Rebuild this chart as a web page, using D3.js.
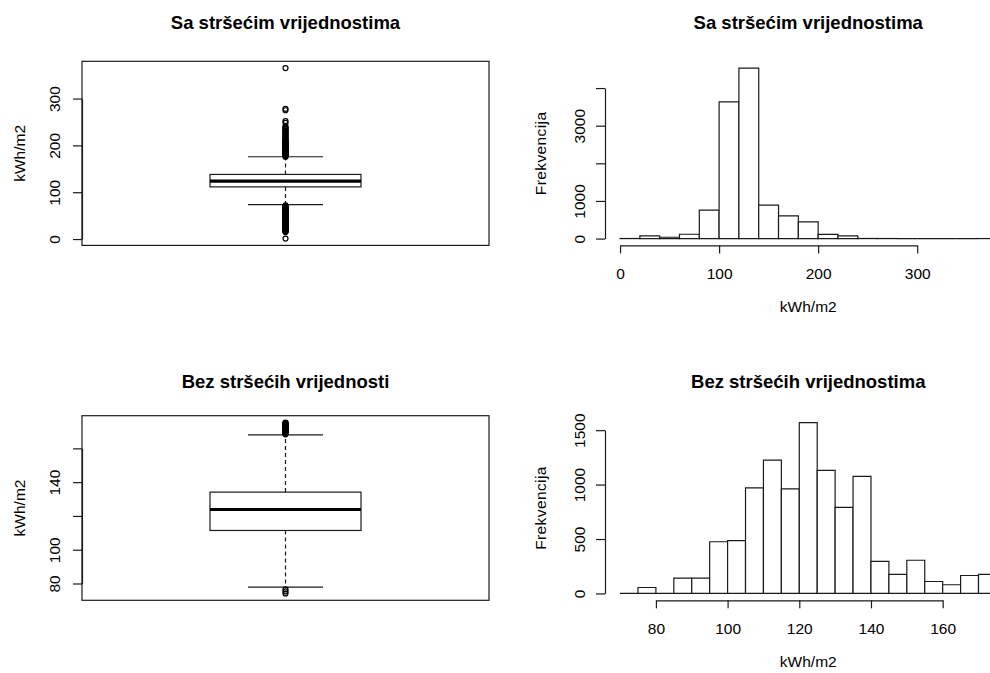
<!DOCTYPE html>
<html><head><meta charset="utf-8">
<script src="https://cdn.jsdelivr.net/npm/d3@7/dist/d3.min.js"></script>
<style>
body{margin:0;background:#fff}
svg text{font-family:"Liberation Sans",Arial,sans-serif;fill:#000}
</style>
</head><body>
<svg id="c" width="990" height="673"></svg>
<script>
// ---------- DATA ----------
const titleTopBox = "Sa stršećim vrijednostima";
const titleTopHist = "Sa stršećim vrijednostima";
const titleBotBox = "Bez stršećih vrijednosti";
const titleBotHist = "Bez stršećih vrijednostima";
const unitLabel = "kWh/m2";
const freqLabel = "Frekvencija";

// boxplot stats: [lower whisker, Q1, median, Q3, upper whisker]
const boxAllStats = [73.7, 111.4, 123.6, 138.0, 175.7];
const boxAllOutliers = [176,177,178,179,180,181,182,183,184,185,186,187,188,189,190,191,192,193,194,195,196,197,198,199,200,201,202,203,204,205,206,207,208,209,210,212,214,216,218,220,222,224,226,228,230,232,234,236,238,240,248,252,275,278,365,
  72,71,70,69,68,67,66,65,64,63,62,61,60,59,58,57,56,55,54,53,52,51,50,49,48,47,46,45,44,43,42,41,40,39,38,37,36,35,34,33,32,31,30,29,28,27,26,25,24,23,22,21,20,19,18,17,16,15,1];
const boxAllTicks = [0, 100, 200, 300];
const boxAllTickLabels = [0, 100, 200, 300];

const boxCleanStats = [77.8, 111.4, 123.8, 134.1, 168.0];
const boxCleanOutliers = [168.3,168.6,168.9,169.2,169.5,169.8,170.1,170.4,170.7,171.0,171.3,171.6,171.9,172.2,172.5,172.8,173.1,173.4,173.7,174.0,174.3,174.6,174.9,175.3,76.5,75.3,74.1];
const boxCleanTicks = [80, 100, 120, 140, 160];
const boxCleanTickLabels = [80, 100, 140];

const histAllBreaks = [0,20,40,60,80,100,120,140,160,180,200,220,240,260,280,300,320,340,360,380];
const histAllCounts = [2,70,35,115,755,3635,4530,888,604,444,110,70,3,2,0,0,0,0,1];
const histAllXTicks = [0,100,200,300];
const histAllYTicks = [0,1000,2000,3000,4000];
const histAllYTickLabels = [0,1000,3000];

const histCleanBreaks = [70,75,80,85,90,95,100,105,110,115,120,125,130,135,140,145,150,155,160,165,170,175];
const histCleanCounts = [0,55,0,140,140,475,485,970,1225,960,1570,1130,790,1075,295,175,305,110,80,165,175];
const histCleanXTicks = [80,100,120,140,160];
const histCleanYTicks = [0,500,1000,1500];
const histCleanYTickLabels = [0,500,1000,1500];

// ---------- LAYOUT ----------
const svg = d3.select("#c");
const colBox = {l:82, r:489};
const colHist = {l:605, r:1011.5};
const rowTop = {t:61.3, b:245.4, title:29};
const rowBot = {t:415.7, b:600.3, title:387.7};
const LINE = "#1a1a1a";
const TICKFS = "15.5px";
const TITLEFS = "18.5px";

function ext(lo, hi){ const d = hi - lo; return [lo - 0.04*d, hi + 0.04*d]; }

function title(txt, x, y){
  svg.append("text").attr("x", x).attr("y", y).attr("text-anchor","middle")
    .style("font-size", TITLEFS).style("font-weight","bold").text(txt);
}
function vlabel(txt, x, y, ls){
  svg.append("text").attr("transform", `translate(${x},${y}) rotate(-90)`)
    .attr("text-anchor","middle").style("font-size", TICKFS).style("letter-spacing", ls || "0px").text(txt);
}
function yAxis(y, x, ticks, labels, labelOff){
  const s = y.copy().domain([ticks[0], ticks[ticks.length-1]]).range([y(ticks[0]), y(ticks[ticks.length-1])]);
  const g = svg.append("g").attr("transform", `translate(${x},0)`)
    .call(d3.axisLeft(s).tickValues(ticks).tickSize(9).tickSizeOuter(0)
      .tickFormat(d => labels.includes(d) ? String(d) : ""));
  g.attr("font-family", null).attr("font-size", null);
  g.selectAll("path,line").attr("stroke", LINE).attr("stroke-width", 1.2);
  g.selectAll(".tick text").attr("x", 0).attr("y", 0).attr("dy", null)
    .attr("text-anchor","middle").attr("fill", "#000")
    .attr("transform", `translate(${-labelOff},0) rotate(-90)`)
    .style("font-size", TICKFS);
}
function xAxis(x, y0, ticks){
  const s = x.copy().domain([ticks[0], ticks[ticks.length-1]]).range([x(ticks[0]), x(ticks[ticks.length-1])]);
  const g = svg.append("g").attr("transform", `translate(0,${y0})`)
    .call(d3.axisBottom(s).tickValues(ticks).tickSize(8).tickSizeOuter(0).tickFormat(d => String(d)));
  g.attr("font-family", null).attr("font-size", null);
  g.selectAll("path,line").attr("stroke", LINE).attr("stroke-width", 1.2);
  g.selectAll(".tick text").attr("y", 34).attr("dy", null).attr("fill","#000").style("font-size", TICKFS);
}

function boxPanel(stats, outs, ticks, labels, row, ttl){
  const all = stats.concat(outs);
  const y = d3.scaleLinear().domain(ext(d3.min(all), d3.max(all))).range([row.b, row.t]);
  const cx = (colBox.l + colBox.r)/2, hw = 75.5, sw = 37.5;
  const g = svg.append("g").attr("fill","none").attr("stroke", LINE);
  g.append("line").attr("x1",cx).attr("x2",cx).attr("y1",y(stats[3])).attr("y2",y(stats[4]))
    .attr("stroke-width",1.2).attr("stroke-dasharray","4,3");
  g.append("line").attr("x1",cx).attr("x2",cx).attr("y1",y(stats[1])).attr("y2",y(stats[0]))
    .attr("stroke-width",1.2).attr("stroke-dasharray","4,3");
  g.append("line").attr("x1",cx-sw).attr("x2",cx+sw).attr("y1",y(stats[4])).attr("y2",y(stats[4])).attr("stroke-width",1.2);
  g.append("line").attr("x1",cx-sw).attr("x2",cx+sw).attr("y1",y(stats[0])).attr("y2",y(stats[0])).attr("stroke-width",1.2);
  g.append("rect").attr("x",cx-hw).attr("width",2*hw).attr("y",y(stats[3])).attr("height",y(stats[1])-y(stats[3]))
    .attr("fill","#fff").attr("stroke-width",1.2);
  g.append("line").attr("x1",cx-hw).attr("x2",cx+hw).attr("y1",y(stats[2])).attr("y2",y(stats[2])).attr("stroke","#000").attr("stroke-width",3.2);
  g.selectAll("circle.o").data(outs).join("circle").attr("class","o")
    .attr("cx",cx).attr("cy",d=>y(d)).attr("r",2.5).attr("stroke","#000").attr("stroke-width",1.2);
  svg.append("rect").attr("x",colBox.l).attr("y",row.t).attr("width",colBox.r-colBox.l).attr("height",row.b-row.t)
    .attr("fill","none").attr("stroke",LINE).attr("stroke-width",1.2);
  yAxis(y, colBox.l, ticks, labels, 22);
  vlabel(unitLabel, 25, (row.t+row.b)/2);
  title(ttl, cx, row.title);
}

function histPanel(breaks, counts, xt, yt, ylabels, row, ttl){
  const x = d3.scaleLinear().domain(ext(breaks[0], breaks[breaks.length-1])).range([colHist.l, colHist.r]);
  const y = d3.scaleLinear().domain(ext(0, d3.max(counts))).range([row.b, row.t]);
  const bins = counts.map((c,i)=>({x0:breaks[i], x1:breaks[i+1], c}));
  svg.append("g").selectAll("path").data(bins).join("path")
    .attr("d", d => `M${x(d.x0)},${y(0)}V${y(d.c)}H${x(d.x1)}V${y(0)}Z`)
    .attr("fill","#fff").attr("stroke",LINE).attr("stroke-width",1.2);
  xAxis(x, row.b, xt);
  yAxis(y, colHist.l, yt, ylabels, 20);
  vlabel(freqLabel, 546, (row.t+row.b)/2, "0.4px");
  svg.append("text").attr("x",(colHist.l+colHist.r)/2).attr("y", row.b+67).attr("text-anchor","middle")
    .style("font-size",TICKFS).text(unitLabel);
  title(ttl, (colHist.l+colHist.r)/2, row.title);
}

boxPanel(boxAllStats, boxAllOutliers, boxAllTicks, boxAllTickLabels, rowTop, titleTopBox);
boxPanel(boxCleanStats, boxCleanOutliers, boxCleanTicks, boxCleanTickLabels, rowBot, titleBotBox);
histPanel(histAllBreaks, histAllCounts, histAllXTicks, histAllYTicks, histAllYTickLabels, rowTop, titleTopHist);
histPanel(histCleanBreaks, histCleanCounts, histCleanXTicks, histCleanYTicks, histCleanYTickLabels, rowBot, titleBotHist);
</script>
</body></html>
